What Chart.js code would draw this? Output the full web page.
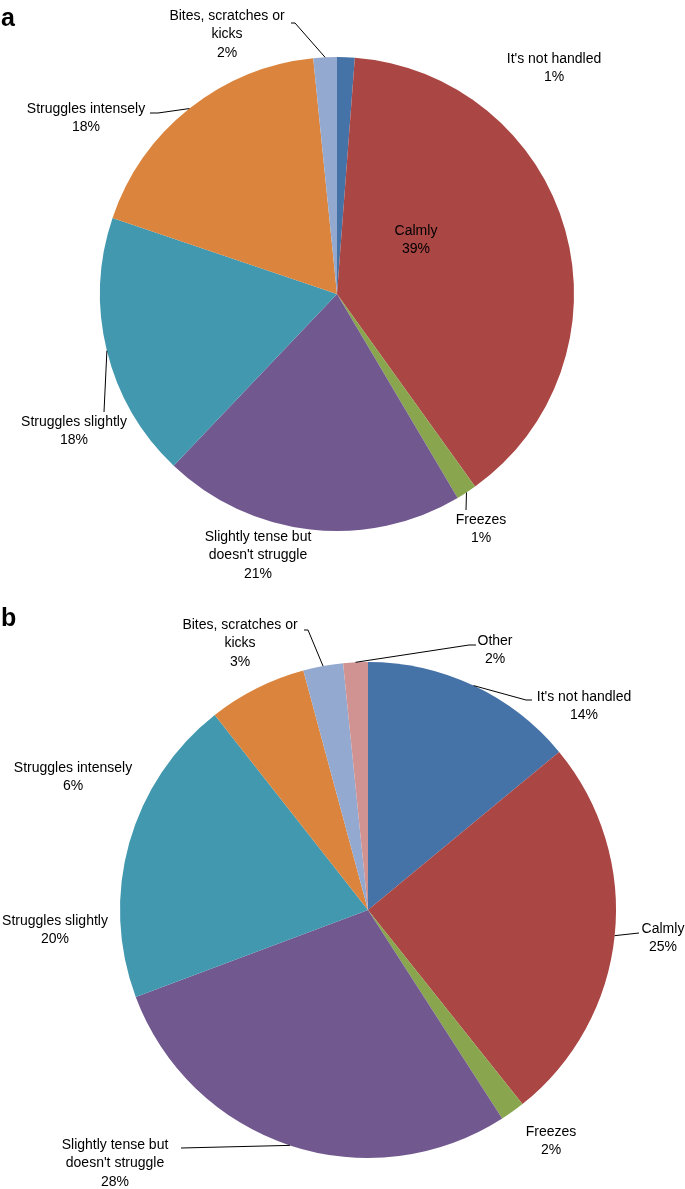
<!DOCTYPE html>
<html><head><meta charset="utf-8">
<script src="https://cdn.jsdelivr.net/npm/chart.js@4/dist/chart.umd.min.js"></script>
<style>
html,body{margin:0;padding:0;background:#fff;width:685px;height:1189px;overflow:hidden}
canvas{position:absolute;left:0}
#ca{top:0}
#cb{top:600px}
</style></head><body>
<canvas id="ca" width="685" height="600"></canvas>
<canvas id="cb" width="685" height="589"></canvas>
<script>
// ---- data ----
const catsA = [["It's not handled"],["Calmly"],["Freezes"],["Slightly tense but","doesn't struggle"],["Struggles slightly"],["Struggles intensely"],["Bites, scratches or","kicks"]];
const valuesA = [1.2, 38.9, 1.4, 20.6, 18.1, 18.2, 1.6];
const colorsA = ["#4572A7","#AA4643","#89A54E","#71588F","#4198AF","#DB843D","#93A9CF"];

const catsB = [["It's not handled"],["Calmly"],["Freezes"],["Slightly tense but","doesn't struggle"],["Struggles slightly"],["Struggles intensely"],["Bites, scratches or","kicks"],["Other"]];
const valuesB = [14.0, 25.3, 1.6, 28.4, 20.1, 6.4, 2.6, 1.6];
const colorsB = ["#4572A7","#AA4643","#89A54E","#71588F","#4198AF","#DB843D","#93A9CF","#D19392"];

// ---- label layout (annotation placement, canvas-local px) ----
const layoutA = [
  {x:554, y:59},
  {x:416, y:231},
  {x:481, y:520, lead:[[466,510]]},
  {x:258, y:537},
  {x:74,  y:422, lead:[[104,412]]},
  {x:86,  y:109, lead:[[150,113],[158,113]]},
  {x:227, y:16,  lead:[[291,23],[295,23]]}
];
const layoutB = [
  {x:584, y:97,  lead:[[532,100],[526,100]]},
  {x:663, y:329, lead:[[639,333]]},
  {x:551, y:532},
  {x:115, y:545, lead:[[181,548]]},
  {x:55,  y:321},
  {x:73,  y:168},
  {x:240, y:25,  lead:[[304,30],[308,30]]},
  {x:495, y:41,  lead:[[476,45],[469,45]]}
];

const FONT = "14px 'Liberation Sans', Arial, sans-serif";
const LH = 18.5;

const labelPlugin = {
  id:'pieLabels',
  afterDraw(chart, args, opts){
    const ctx = chart.ctx;
    const meta = chart.getDatasetMeta(0);
    const vals = chart.data.datasets[0].data;
    ctx.save();
    // panel letter
    ctx.fillStyle = '#000';
    ctx.font = "bold 25px 'Liberation Sans', Arial, sans-serif";
    ctx.textAlign = 'left'; ctx.textBaseline = 'middle';
    ctx.fillText(opts.letter, 1, 19);
    ctx.font = FONT;
    ctx.textAlign = 'center';
    opts.layout.forEach((L, i) => {
      const arc = meta.data[i];
      const lines = opts.cats[i].concat([Math.round(vals[i]) + '%']);
      lines.forEach((t, k) => ctx.fillText(t, L.x, L.y + k*LH));
      if (L.lead){
        const mid = (arc.startAngle + arc.endAngle)/2;
        const ex = arc.x + Math.cos(mid)*arc.outerRadius;
        const ey = arc.y + Math.sin(mid)*arc.outerRadius;
        ctx.strokeStyle = '#000'; ctx.lineWidth = 1;
        ctx.beginPath();
        ctx.moveTo(L.lead[0][0], L.lead[0][1]);
        for (let j=1;j<L.lead.length;j++) ctx.lineTo(L.lead[j][0], L.lead[j][1]);
        ctx.lineTo(ex, ey);
        ctx.stroke();
      }
    });
    ctx.restore();
  }
};

function makePie(id, cats, values, colors, layout, letter, pad){
  new Chart(document.getElementById(id), {
    type:'pie',
    data:{labels:cats.map(c=>c.join(' ')), datasets:[{data:values, backgroundColor:colors, borderWidth:0}]},
    options:{
      responsive:false, animation:false,
      layout:{padding:pad},
      plugins:{legend:{display:false}, tooltip:{enabled:false},
        pieLabels:{cats, layout, letter}}
    },
    plugins:[labelPlugin]
  });
}
makePie('ca', catsA, valuesA, colorsA, layoutA, 'a', {left:100,right:111,top:57,bottom:69});
makePie('cb', catsB, valuesB, colorsB, layoutB, 'b', {left:120,right:69,top:62,bottom:31});
</script>
</body></html>
